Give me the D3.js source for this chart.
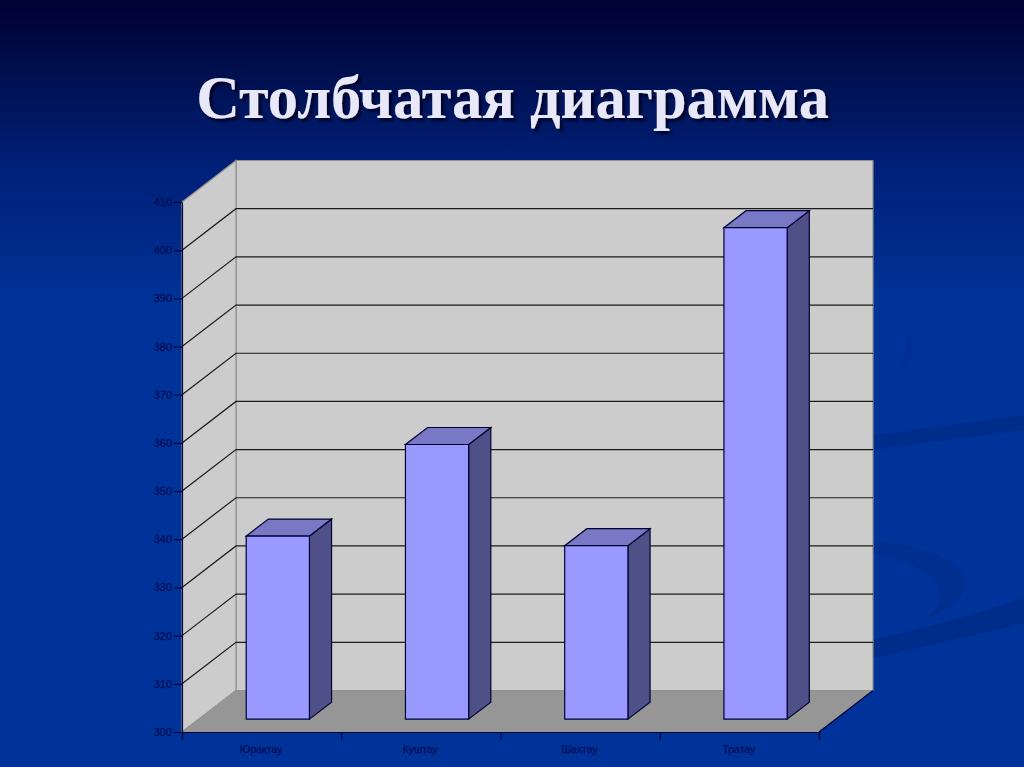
<!DOCTYPE html>
<html lang="ru">
<head>
<meta charset="utf-8">
<title>Столбчатая диаграмма</title>
<script src="https://cdn.jsdelivr.net/npm/d3@7"></script>
<style>
  html, body { margin: 0; padding: 0; background: #003399; overflow: hidden; }
  svg { display: block; }
  .tick text, .cat { font-family: "Liberation Sans", Arial, sans-serif; fill: #000c55; stroke: #000c55; stroke-width: 0.25px; }
</style>
</head>
<body>
<svg id="chart" width="1024" height="767"></svg>
<script>
const titleText = "Столбчатая диаграмма";
const categories = ["Юрактау", "Куштау", "Шахтау", "Тратау"];
const values = [338, 357, 336, 402];
const yTicks = [300, 310, 320, 330, 340, 350, 360, 370, 380, 390, 400, 410];

const svg = d3.select("#chart");
const W = 1024, H = 767;

// front plane of the 3d box, the back wall is the same thing shifted by depth
const left = 182, right = 819, base = 732, top_ = 202;
const depthX = 54, depthY = -41.5;
const barFront = 0.31, barBack = 0.72;

const y = d3.scaleLinear().domain([300, 410]).range([base, top_]);
const x = d3.scaleBand().domain(categories).range([left, right]);
const barW = x.bandwidth() * 0.397;
const barInset = x.bandwidth() * 0.298;

// project (screen x on front plane, value, depth 0..1) to screen
const p = (px, v, d) => [px + depthX * d, y(v) + depthY * d];
const poly = pts => pts.map(q => q.join(",")).join(" ");

const defs = svg.append("defs");
const bg = defs.append("linearGradient").attr("id", "bg")
  .attr("x1", 0).attr("y1", 0).attr("x2", 0).attr("y2", 1);
bg.append("stop").attr("offset", 0).attr("stop-color", "#000033");
bg.append("stop").attr("offset", 0.1).attr("stop-color", "#001050");
bg.append("stop").attr("offset", 0.22).attr("stop-color", "#002078");
bg.append("stop").attr("offset", 0.4).attr("stop-color", "#003399");
bg.append("stop").attr("offset", 1).attr("stop-color", "#003399");

const ts = defs.append("filter").attr("id", "ts")
  .attr("x", "-5%").attr("y", "-20%").attr("width", "110%").attr("height", "140%");
ts.append("feDropShadow").attr("dx", 3).attr("dy", 3).attr("stdDeviation", 1.5)
  .attr("flood-color", "#000020").attr("flood-opacity", 0.9);

svg.append("rect").attr("width", W).attr("height", H).attr("fill", "url(#bg)");

// background swooshes
const swoosh = [
  { d: "M860,437 C920,429 980,421 1024,415 L1024,430 C980,436 920,443 860,452 Z", fill: "#002d8a" },
  { d: "M860,642 C920,630 980,613 1024,598 L1024,623 C980,634 920,648 860,661 Z", fill: "#002d8a" },
  { d: "M860,538 C920,545 968,560 965,585 C963,602 945,612 927,617 C942,606 946,592 930,576 C912,562 885,555 860,551 Z", fill: "#002f90" },
  { d: "M898,313 C913,325 918,345 908,362 C900,376 885,388 875,393 C890,380 905,360 907,342 C907,330 903,320 898,313 Z", fill: "#003094" }
];
svg.append("g").selectAll("path").data(swoosh).join("path")
  .attr("d", d => d.d).attr("fill", d => d.fill);

svg.append("text")
  .attr("x", 512.5).attr("y", 118)
  .attr("text-anchor", "middle")
  .attr("font-family", "'Liberation Serif', 'Times New Roman', serif")
  .attr("font-weight", "bold")
  .attr("font-size", 60.4)
  .attr("fill", "#e8e8f8")
  .attr("filter", "url(#ts)")
  .text(titleText);

// walls and floor
const chart = svg.append("g");
chart.append("polygon")
  .attr("points", poly([p(left, 300, 1), p(right, 300, 1), p(right, 410, 1), p(left, 410, 1)]))
  .attr("fill", "#cccccc").attr("stroke", "#8f8f8f").attr("stroke-width", 1.2);
chart.append("polygon")
  .attr("points", poly([p(left, 300, 0), p(left, 300, 1), p(left, 410, 1), p(left, 410, 0)]))
  .attr("fill", "#cccccc").attr("stroke", "#8f8f8f").attr("stroke-width", 1.2);
chart.append("polygon")
  .attr("points", poly([p(left, 300, 0), p(right, 300, 0), p(right, 300, 1), p(left, 300, 1)]))
  .attr("fill", "#969696");
// floor front-right edge
chart.append("line")
  .attr("x1", p(right, 300, 0)[0]).attr("y1", p(right, 300, 0)[1])
  .attr("x2", p(right, 300, 1)[0]).attr("y2", p(right, 300, 1)[1])
  .attr("stroke", "#000033").attr("stroke-width", 1.2);

// gridlines along side wall and back wall
const gridVals = yTicks.slice(1, -1);
chart.append("g").selectAll("polyline").data(gridVals).join("polyline")
  .attr("points", d => poly([p(left, d, 0), p(left, d, 1), p(right, d, 1)]))
  .attr("fill", "none").attr("stroke", "#1a1a1a").attr("stroke-width", 1.2);

// bars
const bars = chart.append("g").selectAll("g").data(categories).join("g");
const barStroke = "#000033";
const bx0 = c => x(c) + barInset;
const bx1 = c => bx0(c) + barW;
const val = (d, i) => values[i];

bars.append("polygon") // side
  .attr("points", (c, i) => poly([p(bx1(c), 300, barFront), p(bx1(c), 300, barBack),
    p(bx1(c), val(c, i), barBack), p(bx1(c), val(c, i), barFront)]))
  .attr("fill", "#505088").attr("stroke", barStroke).attr("stroke-width", 1.2);
bars.append("polygon") // top
  .attr("points", (c, i) => poly([p(bx0(c), val(c, i), barFront), p(bx1(c), val(c, i), barFront),
    p(bx1(c), val(c, i), barBack), p(bx0(c), val(c, i), barBack)]))
  .attr("fill", "#7878c4").attr("stroke", barStroke).attr("stroke-width", 1.2);
bars.append("polygon") // front
  .attr("points", (c, i) => poly([p(bx0(c), 300, barFront), p(bx1(c), 300, barFront),
    p(bx1(c), val(c, i), barFront), p(bx0(c), val(c, i), barFront)]))
  .attr("fill", "#9999ff").attr("stroke", barStroke).attr("stroke-width", 1.2);

// axes
const yAxis = chart.append("g").attr("transform", `translate(${left},0)`)
  .call(d3.axisLeft(y).tickValues(yTicks).tickSize(8).tickPadding(2).tickSizeOuter(0));
yAxis.selectAll("text").attr("font-size", 11).attr("font-family", null);
yAxis.selectAll("line, path").attr("stroke", "#000033").attr("stroke-width", 1.2);

const xAxis = chart.append("g").attr("transform", `translate(0,${base})`)
  .call(d3.axisBottom(d3.scaleLinear().domain([0, categories.length]).range([left, right]))
    .tickValues(d3.range(categories.length + 1)).tickSize(8).tickFormat("").tickSizeOuter(0));
xAxis.selectAll("line, path").attr("stroke", "#000033").attr("stroke-width", 1.2);

chart.append("g").selectAll("text").data(categories).join("text")
  .attr("class", "cat")
  .attr("x", c => x(c) + x.bandwidth() / 2 - 0.5)
  .attr("y", base + 21)
  .attr("text-anchor", "middle")
  .attr("font-size", 10.5)
  .text(c => c);
</script>
</body>
</html>
